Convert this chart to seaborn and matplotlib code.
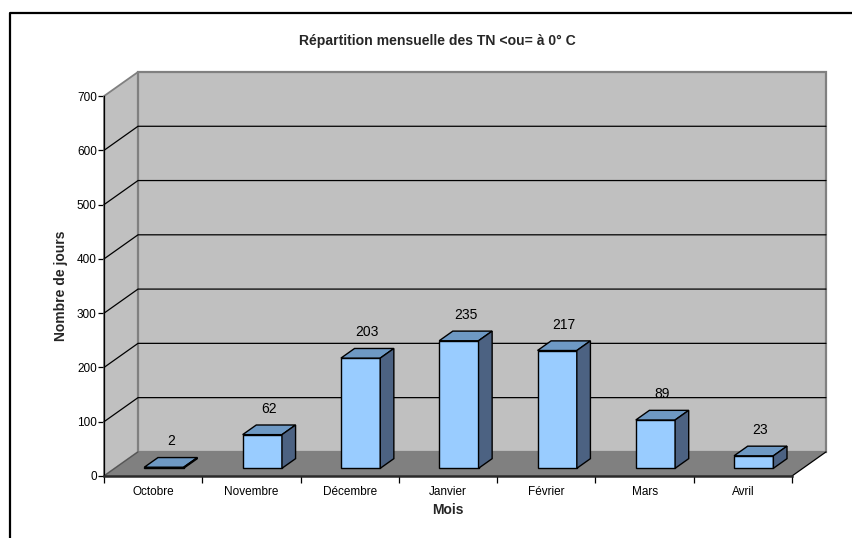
import matplotlib
matplotlib.use("Agg")
import matplotlib.pyplot as plt
from matplotlib.patches import Polygon, Rectangle
from matplotlib.lines import Line2D
import seaborn as sns
import pandas as pd

# Données : nombre de jours avec TN <= 0 °C par mois
mois = ["Octobre", "Novembre", "Décembre", "Janvier", "Février", "Mars", "Avril"]
jours = [2, 62, 203, 235, 217, 89, 23]
graduations = [0, 100, 200, 300, 400, 500, 600, 700]

titre = "Répartition mensuelle des TN <ou= à 0° C"
titre_x = "Mois"
titre_y = "Nombre de jours"

sns.set_theme(style="white")
plt.rcParams["font.family"] = ["Liberation Sans", "DejaVu Sans"]

W, H = 853, 538
fig = plt.figure(figsize=(W / 100, H / 100), dpi=100)
fig.patch.set_facecolor("white")

# Profondeur de la perspective (unités catégorie / unités valeur)
DX, DY = 0.346, 44.4
YMAX = 700
# Position des barres dans la profondeur du plancher
F0, F1 = 0.32, 0.72
shift, base = F0 * DX, F0 * DY
bdx, bdy = (F1 - F0) * DX, (F1 - F0) * DY
n = len(mois)

# Axes placés en pixels
left_px, right_px, bottom_px, top_px = 104, 826, 476, 72
ax = fig.add_axes([left_px / W, 1 - bottom_px / H,
                   (right_px - left_px) / W, (bottom_px - top_px) / H])
ax.set_facecolor("none")

df = pd.DataFrame({"mois": mois, "jours": jours})
sns.barplot(data=df, x="mois", y="jours", width=0.4, color="#99CCFF",
            saturation=1, edgecolor="black", linewidth=1, ax=ax, zorder=5)
bars = list(ax.patches)

C_WALL = "#C0C0C0"
C_FLOOR = "#808080"
C_EDGE = "#808080"

# Plancher
ax.add_patch(Polygon([(-0.5, 0), (n - 0.5, 0), (n - 0.5 + DX, DY), (-0.5 + DX, DY)],
                     closed=True, facecolor=C_FLOOR, edgecolor="none", zorder=1,
                     clip_on=False))
ax.add_line(Line2D([n - 0.5, n - 0.5 + DX], [0, DY], color="black", lw=0.9,
                   zorder=2, clip_on=False))
ax.add_line(Line2D([-0.5, -0.5 + DX], [0, DY], color="#555555", lw=0.9,
                   zorder=2, clip_on=False))

# Paroi gauche
ax.add_patch(Polygon([(-0.5, 0), (-0.5, YMAX), (-0.5 + DX, YMAX + DY), (-0.5 + DX, DY)],
                     closed=True, facecolor=C_WALL, edgecolor=C_EDGE, lw=1.3,
                     zorder=1, clip_on=False))
# Paroi du fond
ax.add_patch(Rectangle((-0.5 + DX, DY), n, YMAX, facecolor=C_WALL,
                       edgecolor=C_EDGE, lw=1.6, zorder=1, clip_on=False))

# Quadrillage
for v in graduations[1:-1]:
    ax.add_line(Line2D([-0.5, -0.5 + DX, n - 0.5 + DX], [v, v + DY, v + DY],
                       color="black", lw=0.9, zorder=2, clip_on=False))

# Barres en relief : face avant, dessus et côté
for p, v in zip(bars, jours):
    p.set_x(p.get_x() + shift)
    p.set_y(base)
    p.set_height(v)
    p.set_clip_on(False)
    x0 = p.get_x()
    x1 = x0 + p.get_width()
    t = base + v
    ax.add_patch(Polygon([(x0, t), (x1, t), (x1 + bdx, t + bdy), (x0 + bdx, t + bdy)],
                         closed=True, facecolor="#6E99C4", edgecolor="black",
                         lw=1, zorder=5, clip_on=False))
    ax.add_patch(Polygon([(x1, base), (x1 + bdx, base + bdy), (x1 + bdx, t + bdy), (x1, t)],
                         closed=True, facecolor="#4C6282", edgecolor="black",
                         lw=1, zorder=5, clip_on=False))
    ax.text((x0 + x1) / 2 + bdx / 2, t + bdy + 30, str(v), ha="center",
            va="center", fontsize=10, color="black", zorder=6)

ax.set_xlim(-0.5, n - 0.5 + DX)
ax.set_ylim(0, YMAX + DY)

# Axes et graduations
for s in ["top", "right"]:
    ax.spines[s].set_visible(False)
ax.spines["left"].set_bounds(0, YMAX)
ax.spines["left"].set_color("black")
ax.spines["left"].set_linewidth(0.9)
ax.spines["left"].set_zorder(3)
ax.spines["bottom"].set_bounds(-0.5, n - 0.5)
ax.spines["bottom"].set_color("#2a2a2a")
ax.spines["bottom"].set_linewidth(1.8)
ax.spines["bottom"].set_zorder(3)

ax.set_yticks(graduations)
ax.set_yticklabels([str(g) for g in graduations])
ax.tick_params(axis="y", left=True, length=4, width=0.9, color="black",
               pad=1.2, labelsize=8.5, labelcolor="black")

ax.set_xticks(range(n))
ax.set_xticklabels(mois)
ax.set_xticks([i - 0.5 for i in range(n + 1)], minor=True)
ax.tick_params(axis="x", which="major", length=0, pad=7, labelsize=8.5,
               labelcolor="black")
ax.tick_params(axis="x", which="minor", bottom=True, length=5, width=0.9,
               color="black")
ax.set_xlabel("")
ax.set_ylabel("")
ax.grid(False)

# Titres
fig.text(437 / W, 1 - 41 / H, titre, ha="center", va="center",
         fontsize=10.1, fontweight="bold")
fig.text(448 / W, 1 - 510 / H, titre_x, ha="center", va="center",
         fontsize=10, fontweight="bold")
fig.text(60.5 / W, 1 - 286 / H, titre_y, ha="center", va="center",
         rotation=90, fontsize=10, fontweight="bold")

# Cadre du graphique
fig.add_artist(Line2D([9.5 / W, 9.5 / W, 1.0], [0.0, 1 - 12.5 / H, 1 - 12.5 / H],
                      transform=fig.transFigure, color="black", lw=1.6))

fig.savefig("out.png", dpi=100)
